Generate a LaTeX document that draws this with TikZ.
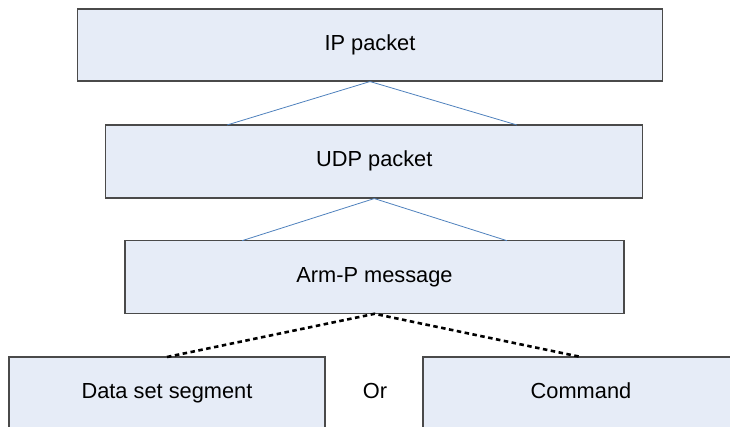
\documentclass[tikz,border=0pt]{standalone}
\usepackage{fontspec}
\setmainfont{Liberation Sans}
\usetikzlibrary{positioning}
\definecolor{boxfill}{HTML}{E6ECF7}
\definecolor{boxline}{HTML}{4A4A4A}
\definecolor{linkblue}{HTML}{4F81BD}
\begin{document}
\begin{tikzpicture}[x=1pt,y=-1pt,
  labelfont/.style={font=\fontsize{21.8}{26}\selectfont,text height=15.5pt,text depth=4.5pt},
  layerbox/.style={draw=boxline,line width=1.1pt,fill=boxfill,rectangle,inner sep=0pt,labelfont},
  bluelink/.style={draw=linkblue,line width=0.8pt},
  altlink/.style={draw=black,line width=2.6pt,dash pattern=on 4.5pt off 3.5pt}]
  \path[use as bounding box,clip] (0,0) rectangle (730,427);
  % protocol layers
  \node[layerbox,minimum width=584.5pt,minimum height=72pt] (ip) at (370,45) {IP packet};
  \node[layerbox,minimum width=537pt,minimum height=73pt] (udp) at (374.3,161.5) {UDP packet};
  \node[layerbox,minimum width=499pt,minimum height=72.5pt] (armp) at (374.5,277) {Arm-P message};
  \node[layerbox,minimum width=316pt,minimum height=72pt] (data) at (167,393) {Data set segment};
  \node[layerbox,minimum width=316pt,minimum height=72pt] (cmd) at (581,393) {Command};
  \node[labelfont] (or) at (375,393) {Or};
  % attachment points on the upper edges
  \coordinate (u1) at (227,125);
  \coordinate (u2) at (517,125);
  \coordinate (a1) at (242,240.7);
  \coordinate (a2) at (507,240.7);
  \coordinate (d1) at (167,357);
  \coordinate (c1) at (581,357);
  % encapsulation links
  \draw[bluelink] (u1) -- (ip.south) -- (u2);
  \draw[bluelink] (a1) -- (udp.south) -- (a2);
  \draw[altlink] (d1) -- (armp.south) -- (c1);
\end{tikzpicture}
\end{document}
